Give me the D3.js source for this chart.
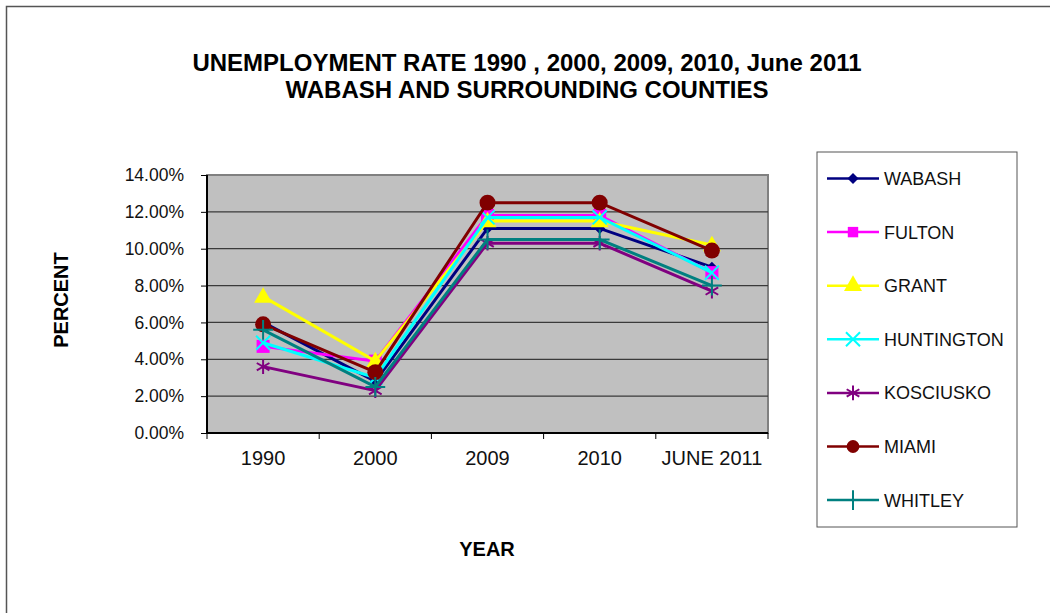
<!DOCTYPE html>
<html>
<head>
<meta charset="utf-8">
<script src="https://cdn.jsdelivr.net/npm/d3@7"></script>
<style>
  body { margin: 0; background: #fff; }
  text { font-family: "Liberation Sans", Arial, sans-serif; }
</style>
</head>
<body>
<div id="chart"></div>
<script>
var years = ["1990", "2000", "2009", "2010", "JUNE 2011"];
var yTicks = [0, 0.02, 0.04, 0.06, 0.08, 0.10, 0.12, 0.14];

var wabash     = [0.060, 0.028, 0.111, 0.111, 0.090];
var fulton     = [0.047, 0.039, 0.118, 0.118, 0.087];
var grant      = [0.074, 0.039, 0.115, 0.115, 0.102];
var huntington = [0.049, 0.030, 0.117, 0.117, 0.087];
var kosciusko  = [0.036, 0.023, 0.103, 0.103, 0.077];
var miami      = [0.059, 0.033, 0.125, 0.125, 0.099];
var whitley    = [0.056, 0.025, 0.105, 0.105, 0.080];

var seriesNames = ["WABASH", "FULTON", "GRANT", "HUNTINGTON", "KOSCIUSKO", "MIAMI", "WHITLEY"];
var seriesValues = [wabash, fulton, grant, huntington, kosciusko, miami, whitley];
var seriesColors = ["#000080", "#ff00ff", "#ffff00", "#00ffff", "#800080", "#800000", "#008080"];
var seriesMarkers = ["diamond", "square", "triangle", "x", "asterisk", "circle", "plus"];

var W = 1050, H = 613;
var plot = { left: 207, top: 175, right: 768, bottom: 433 };

var svg = d3.select("#chart").append("svg")
  .attr("width", W)
  .attr("height", H);

// chart outer border
svg.append("rect")
  .attr("x", 6.5).attr("y", 6.5)
  .attr("width", W + 10).attr("height", H + 10)
  .attr("fill", "#fff")
  .attr("stroke", "#555")
  .attr("stroke-width", 1.5);

var x = d3.scaleBand().domain(years).range([plot.left, plot.right]);
var y = d3.scaleLinear().domain([0, 0.14]).range([plot.bottom, plot.top]);

// plot area
svg.append("rect")
  .attr("x", plot.left).attr("y", plot.top)
  .attr("width", plot.right - plot.left)
  .attr("height", plot.bottom - plot.top)
  .attr("fill", "#c0c0c0")
  .attr("stroke", "#808080")
  .attr("stroke-width", 2);

// gridlines
svg.append("g")
  .selectAll("line")
  .data(yTicks.slice(1, -1))
  .enter().append("line")
  .attr("x1", plot.left).attr("x2", plot.right)
  .attr("y1", function(d) { return y(d); })
  .attr("y2", function(d) { return y(d); })
  .attr("stroke", "#3a3a3a")
  .attr("stroke-width", 1.3);

// y axis
var yAxis = svg.append("g")
  .attr("transform", "translate(" + plot.left + ",0)")
  .call(d3.axisLeft(y).tickValues(yTicks).tickFormat(d3.format(".2%")).tickSize(6).tickPadding(17));
yAxis.select(".domain").attr("stroke", "#000").attr("stroke-width", 2).attr("d", "M0," + plot.top + "V" + plot.bottom);
yAxis.selectAll(".tick line").attr("stroke", "#000");
yAxis.selectAll(".tick text")
  .attr("font-size", "17.5px")
  .attr("fill", "#111")
  .style("font-family", "'Liberation Sans', Arial, sans-serif");

// x axis
var xAxis = svg.append("g")
  .attr("transform", "translate(0," + plot.bottom + ")")
  .call(d3.axisBottom(x).tickSize(0).tickPadding(18));
xAxis.select(".domain").attr("stroke", "#000").attr("stroke-width", 2).attr("d", "M" + plot.left + ",0H" + plot.right);
xAxis.selectAll(".tick text")
  .attr("font-size", "20px")
  .attr("fill", "#111")
  .style("font-family", "'Liberation Sans', Arial, sans-serif");
xAxis.append("g").selectAll("line")
  .data(years.concat(["end"]))
  .enter().append("line")
  .attr("x1", function(d, i) { return i < years.length ? x(d) : x(years[years.length - 1]) + x.bandwidth(); })
  .attr("x2", function(d, i) { return i < years.length ? x(d) : x(years[years.length - 1]) + x.bandwidth(); })
  .attr("y1", 0).attr("y2", 6)
  .attr("stroke", "#000");

// symbols
function markerPath(type) {
  var s = {
    diamond: d3.symbol().type(d3.symbolSquare).size(60),
    square: d3.symbol().type(d3.symbolSquare).size(170),
    triangle: d3.symbol().type(d3.symbolTriangle).size(140),
    x: d3.symbol().type(d3.symbolTimes).size(130),
    asterisk: d3.symbol().type(d3.symbolAsterisk).size(150),
    circle: d3.symbol().type(d3.symbolCircle).size(200),
    plus: d3.symbol().type(d3.symbolPlus).size(130)
  };
  return s[type]();
}
function isStroked(type) { return type == "x" || type == "asterisk" || type == "plus"; }

var line = d3.line()
  .x(function(d, i) { return x(years[i]) + x.bandwidth() / 2; })
  .y(function(d) { return y(d); });

seriesValues.forEach(function(vals, s) {
  var col = seriesColors[s];
  var mk = seriesMarkers[s];
  svg.append("path")
    .datum(vals)
    .attr("fill", "none")
    .attr("stroke", col)
    .attr("stroke-width", 3)
    .attr("d", line);

  svg.append("g").selectAll("path")
    .data(vals)
    .enter().append("path")
    .attr("d", markerPath(mk))
    .attr("transform", function(d, i) {
      var t = "translate(" + (x(years[i]) + x.bandwidth() / 2) + "," + y(d) + ")";
      if (mk == "diamond") t += " rotate(45)";
      if (mk == "triangle") t += " translate(0,1)";
      return t;
    })
    .attr("fill", isStroked(mk) ? "none" : col)
    .attr("stroke", col)
    .attr("stroke-width", isStroked(mk) ? 2 : 0);
});

// legend
var legendBox = { x: 817, y: 152, w: 200, h: 375 };
svg.append("rect")
  .attr("x", legendBox.x).attr("y", legendBox.y)
  .attr("width", legendBox.w).attr("height", legendBox.h)
  .attr("fill", "#fff")
  .attr("stroke", "#555")
  .attr("stroke-width", 1);

var legend = svg.selectAll(".legend")
  .data(seriesNames)
  .enter().append("g")
  .attr("class", "legend")
  .attr("transform", function(d, i) {
    return "translate(" + legendBox.x + "," + (178.5 + i * 53.6) + ")";
  });

legend.append("line")
  .attr("x1", 10).attr("x2", 62)
  .attr("y1", 0).attr("y2", 0)
  .attr("stroke", function(d, i) { return seriesColors[i]; })
  .attr("stroke-width", 2.5);

legend.append("path")
  .attr("d", function(d, i) { return markerPath(seriesMarkers[i]); })
  .attr("transform", function(d, i) {
    var t = "translate(36,0)";
    if (seriesMarkers[i] == "diamond") t += " rotate(45)";
    if (seriesMarkers[i] == "circle" || seriesMarkers[i] == "square") t += " scale(0.8)";
    return t;
  })
  .attr("fill", function(d, i) { return isStroked(seriesMarkers[i]) ? "none" : seriesColors[i]; })
  .attr("stroke", function(d, i) { return seriesColors[i]; })
  .attr("stroke-width", function(d, i) { return isStroked(seriesMarkers[i]) ? 2 : 0; });

legend.append("text")
  .attr("x", 67)
  .attr("y", 6.5)
  .attr("font-size", "18px")
  .attr("fill", "#111")
  .text(function(d) { return d; });

// titles
svg.append("text")
  .attr("x", 527).attr("y", 70.5)
  .attr("text-anchor", "middle")
  .attr("font-size", "24px")
  .attr("font-weight", "bold")
  .attr("fill", "#000")
  .text("UNEMPLOYMENT RATE 1990 , 2000, 2009, 2010, June 2011");
svg.append("text")
  .attr("x", 527).attr("y", 97.5)
  .attr("text-anchor", "middle")
  .attr("font-size", "24px")
  .attr("font-weight", "bold")
  .attr("fill", "#000")
  .text("WABASH AND SURROUNDING COUNTIES");

svg.append("text")
  .attr("transform", "translate(68,300) rotate(-90)")
  .attr("text-anchor", "middle")
  .attr("font-size", "20px")
  .attr("font-weight", "bold")
  .attr("fill", "#000")
  .text("PERCENT");

svg.append("text")
  .attr("x", 487).attr("y", 556)
  .attr("text-anchor", "middle")
  .attr("font-size", "20px")
  .attr("font-weight", "bold")
  .attr("fill", "#000")
  .text("YEAR");
</script>
</body>
</html>
